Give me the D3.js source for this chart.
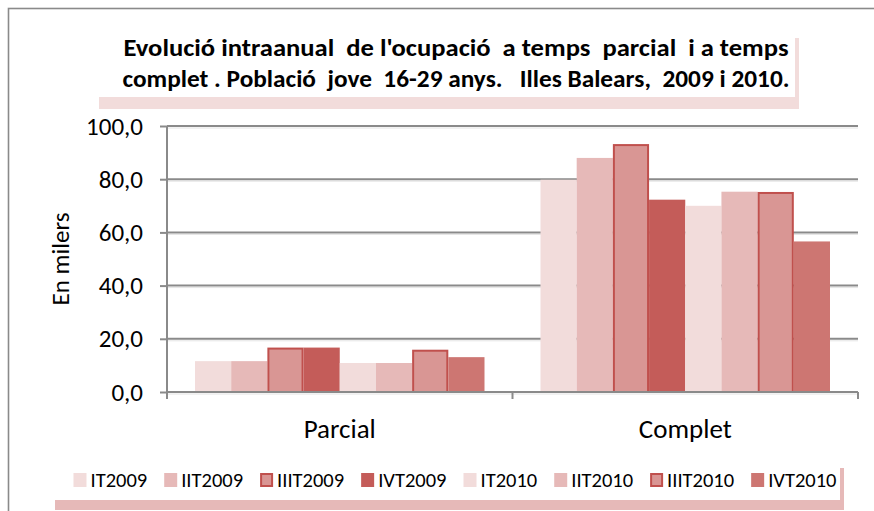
<!DOCTYPE html>
<html>
<head>
<meta charset="utf-8">
<script src="https://cdn.jsdelivr.net/npm/d3@7"></script>
<style>
  body { margin: 0; background: #fff; }
  svg { display: block; font-family: Carlito, Calibri, Lato, sans-serif; }
</style>
</head>
<body>
<div id="chart"></div>
<script>
// values (thousands of people)
const categories = ["Parcial", "Complet"];
const series = ["IT2009", "IIT2009", "IIIT2009", "IVT2009", "IT2010", "IIT2010", "IIIT2010", "IVT2010"];
const parcialValues = [11.6, 11.6, 16.7, 16.7, 10.9, 10.9, 15.9, 13.1];
const completValues = [79.8, 88.0, 93.2, 72.3, 70.0, 75.3, 75.2, 56.6];
const yTicks = [0, 20, 40, 60, 80, 100];
const titleLines = [
  "Evolució intraanual  de l'ocupació  a temps  parcial  i a temps",
  "complet . Població  jove  16-29 anys.   Illes Balears,  2009 i 2010."
];
const yLabel = "En milers";

const fills = ["#F2DCDB", "#E6B9B8", "#D99694", "#C45C59", "#F2DCDB", "#E6B9B8", "#D99694", "#CD7672"];
const strokes = [null, null, "#C0504D", null, null, null, "#C0504D", null];

const width = 874, height = 511;
const margin = { top: 126, right: 16, bottom: 119, left: 167 };
const font = "Carlito, Calibri, Lato, sans-serif";

const svg = d3.select("#chart")
  .append("svg")
  .attr("width", width)
  .attr("height", height)
  .attr("viewBox", [0, 0, width, height]);

// outer chart border (right/bottom edges run off the picture)
svg.append("rect")
  .attr("x", 8.5).attr("y", 8.5)
  .attr("width", width + 20).attr("height", height + 20)
  .attr("fill", "none")
  .attr("stroke", "#8a8a8a")
  .attr("stroke-width", 1.6);

// title box with pink shadow
svg.append("rect")
  .attr("x", 99).attr("y", 38).attr("width", 700).attr("height", 71)
  .attr("fill", "#F2DCDB");
svg.append("rect")
  .attr("x", 96).attr("y", 30).attr("width", 699).attr("height", 67)
  .attr("fill", "#fff");

const title = svg.append("g")
  .attr("font-weight", "bold")
  .attr("font-size", 25)
  .attr("fill", "#000")
  .attr("text-anchor", "middle");
title.selectAll("text")
  .data(titleLines)
  .join("text")
  .attr("x", 456)
  .attr("y", (d, i) => 56 + i * 31)
  .attr("textLength", (d, i) => i === 0 ? 665 : 667)
  .attr("lengthAdjust", "spacingAndGlyphs")
  .style("white-space", "pre")
  .text(d => d);

// scales
const x0 = d3.scaleBand()
  .domain(categories)
  .range([margin.left, width - margin.right])
  .paddingInner(0)
  .paddingOuter(0);

const groupPad = 28;
const x1 = d3.scaleBand()
  .domain(series)
  .range([groupPad, x0.bandwidth() - groupPad])
  .padding(0);

const y = d3.scaleLinear()
  .domain([0, 100])
  .range([height - margin.bottom, margin.top]);

const fmt = d => d3.format(".1f")(d).replace(".", ",");

// y axis ticks + labels
const yAxis = d3.axisLeft(y)
  .tickValues(yTicks)
  .tickFormat(fmt)
  .tickSize(7)
  .tickPadding(17)
  .tickSizeOuter(0);

svg.append("g")
  .attr("transform", `translate(${margin.left},0)`)
  .call(yAxis)
  .call(g => g.select(".domain").remove())
  .call(g => g.selectAll(".tick line")
    .attr("stroke", "#8a8a8a")
    .attr("stroke-width", 2))
  .call(g => g.selectAll(".tick text")
    .attr("font-size", 25)
    .attr("fill", "#000")
    .attr("font-family", font));

// light shadow under gridlines
svg.append("g")
  .selectAll("line")
  .data(yTicks)
  .join("line")
  .attr("x1", margin.left)
  .attr("x2", width - margin.right)
  .attr("y1", d => y(d) + 2)
  .attr("y2", d => y(d) + 2)
  .attr("stroke", "#e4e4e4")
  .attr("stroke-width", 1);

// gridlines
svg.append("g")
  .selectAll("line")
  .data(yTicks)
  .join("line")
  .attr("x1", margin.left)
  .attr("x2", width - margin.right)
  .attr("y1", d => y(d))
  .attr("y2", d => y(d))
  .attr("stroke", "#8a8a8a")
  .attr("stroke-width", 2);

// y axis line
svg.append("line")
  .attr("x1", margin.left).attr("x2", margin.left)
  .attr("y1", y(100)).attr("y2", y(0) + 7)
  .attr("stroke", "#8a8a8a")
  .attr("stroke-width", 2);

// y axis title
svg.append("text")
  .attr("transform", `translate(60,259) rotate(-90)`)
  .attr("text-anchor", "middle")
  .attr("dominant-baseline", "central")
  .attr("font-size", 25)
  .attr("fill", "#000")
  .text(yLabel);

// bars
const rows = categories.map((c, i) => ({
  category: c,
  values: i === 0 ? parcialValues : completValues
}));

const groups = svg.append("g")
  .selectAll("g")
  .data(rows)
  .join("g")
  .attr("transform", d => `translate(${x0(d.category)},0)`);

groups.selectAll("rect")
  .data(d => d.values.map((v, i) => ({ key: series[i], value: v, i })))
  .join("rect")
  .attr("x", d => x1(d.key) + (strokes[d.i] ? 1 : 0))
  .attr("y", d => y(d.value) + (strokes[d.i] ? 1 : 0))
  .attr("width", d => x1.bandwidth() - (strokes[d.i] ? 2 : 0))
  .attr("height", d => y(0) - y(d.value) - (strokes[d.i] ? 1 : 0))
  .attr("fill", d => fills[d.i])
  .attr("stroke", d => strokes[d.i] || "none")
  .attr("stroke-width", 2);

// x axis (category labels) and separator ticks
const xAxis = d3.axisBottom(x0)
  .tickSize(0)
  .tickPadding(27);

svg.append("g")
  .attr("transform", `translate(0,${y(0)})`)
  .call(xAxis)
  .call(g => g.select(".domain").remove())
  .call(g => g.selectAll(".tick text")
    .attr("font-size", 27)
    .attr("fill", "#000")
    .attr("font-family", font));

const sepTicks = [margin.left, x0(categories[1]), width - margin.right];
svg.append("g")
  .selectAll("line")
  .data(sepTicks)
  .join("line")
  .attr("x1", d => d).attr("x2", d => d)
  .attr("y1", y(0)).attr("y2", y(0) + 7)
  .attr("stroke", "#8a8a8a")
  .attr("stroke-width", 2);

svg.append("line")
  .attr("x1", margin.left).attr("x2", width - margin.right)
  .attr("y1", y(0)).attr("y2", y(0))
  .attr("stroke", "#8a8a8a")
  .attr("stroke-width", 2);

// legend box with shadow
svg.append("rect")
  .attr("x", 55).attr("y", 468).attr("width", 789).attr("height", 42)
  .attr("fill", "#E6B9B8");
svg.append("rect")
  .attr("x", 51).attr("y", 456).attr("width", 789).attr("height", 44)
  .attr("fill", "#fff");

const legend = svg.append("g");
const items = legend.selectAll("g")
  .data(series)
  .join("g");

items.append("rect")
  .attr("fill", (d, i) => fills[i])
  .attr("stroke", (d, i) => strokes[i] || "none")
  .attr("stroke-width", 2)
  .attr("x", (d, i) => strokes[i] ? 1 : 0)
  .attr("y", (d, i) => strokes[i] ? 474 : 473)
  .attr("width", (d, i) => strokes[i] ? 11 : 13)
  .attr("height", (d, i) => strokes[i] ? 12 : 14);

items.append("text")
  .attr("x", 17)
  .attr("y", 487)
  .attr("font-size", 20.5)
  .attr("fill", "#000")
  .text(d => d);

// lay legend items out in a row, centred
let cursor = 0;
const offsets = [];
items.each(function () {
  offsets.push(cursor);
  const w = d3.select(this).select("text").node().getComputedTextLength();
  cursor += 17 + w + 17;
});
const total = cursor - 17;
const startX = 455 - total / 2;
items.attr("transform", (d, i) => `translate(${startX + offsets[i]},0)`);
</script>
</body>
</html>
